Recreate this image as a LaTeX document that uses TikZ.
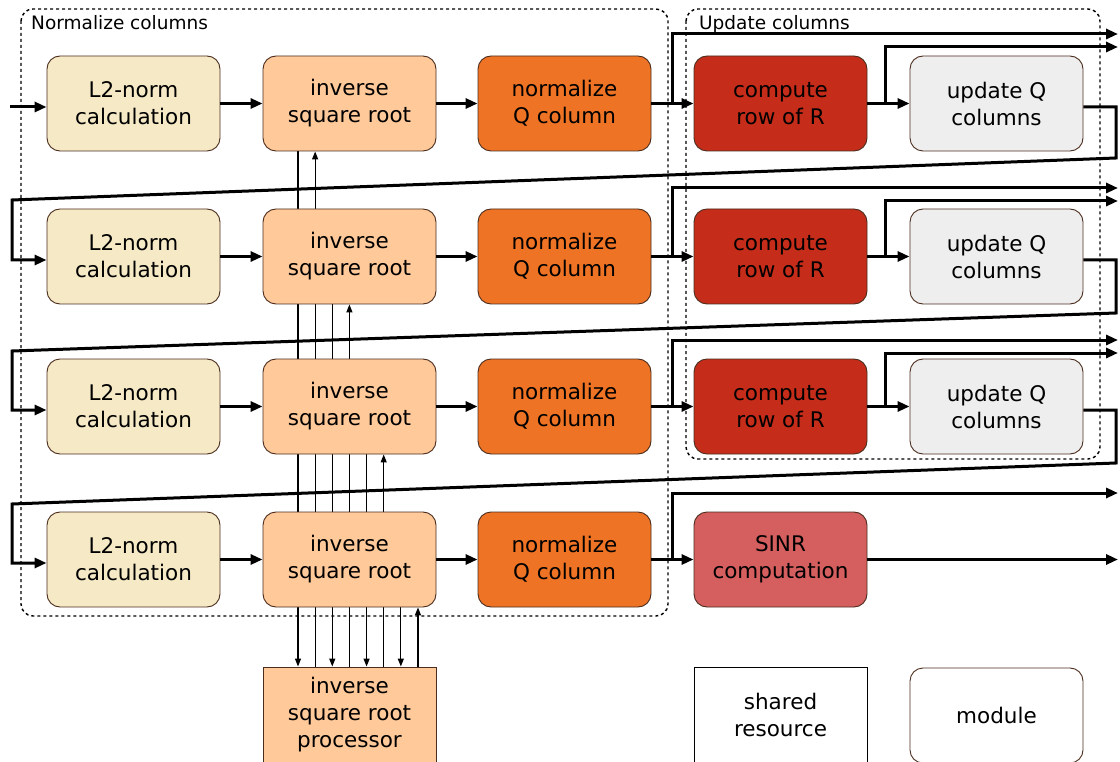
\documentclass[tikz,border=0pt]{standalone}
\usepackage{fontspec}
\setmainfont{DejaVu Sans}
\usetikzlibrary{arrows.meta,backgrounds}

\definecolor{l2col}{RGB}{246,233,197}
\definecolor{isrcol}{RGB}{255,201,153}
\definecolor{nqcol}{RGB}{239,115,36}
\definecolor{crcol}{RGB}{197,45,26}
\definecolor{uqcol}{RGB}{238,238,238}
\definecolor{sinrcol}{RGB}{213,94,94}
\definecolor{brdr}{RGB}{75,45,30}

\begin{document}
\begin{tikzpicture}[x=1pt,y=-1pt,
  box/.style={draw=brdr, line width=0.9pt, rounded corners=13pt,
    minimum width=173pt, minimum height=95pt, inner sep=0pt,
    align=center, font=\fontsize{21.5}{27}\selectfont},
  flow/.style={line width=3pt, -{Triangle[length=12pt,width=10pt]}},
  req/.style={line width=1.2pt, -{Triangle[length=8pt,width=6pt]}},
  group/.style={draw, line width=1.4pt, dash pattern=on 3pt off 3pt, rounded corners=12pt},
  grouplabel/.style={anchor=base west, inner sep=0pt, font=\fontsize{18.5}{22}\selectfont}
]
\useasboundingbox (0,0) rectangle (1120,762);

% group frames
\draw[group] (21,9) rectangle (668,616);
\draw[group] (686,9) rectangle (1100,459);
\node[grouplabel] (nlab) at (31,30) {Normalize columns};
\node[grouplabel] (ulab) at (699,30) {Update columns};

% normalization pipeline, one row per column
\foreach \r/\y in {1/103.5,2/256.5,3/406.5,4/559.5} {
  \node[box, fill=l2col] (l\r) at (133.5,\y) {L2-norm\\calculation};
  \node[box, fill=isrcol] (s\r) at (349.5,\y) {inverse\\square root};
  \node[box, fill=nqcol] (n\r) at (564.5,\y) {normalize\\Q column};
}
% update stage
\foreach \r/\y in {1/103.5,2/256.5,3/406.5} {
  \node[box, fill=crcol] (c\r) at (780.5,\y) {compute\\row of R};
  \node[box, fill=uqcol] (u\r) at (996.5,\y) {update Q\\columns};
}
\node[box, fill=sinrcol] (sinr) at (780.5,559.5) {SINR\\computation};

% shared processor and legend
\node[box, fill=isrcol, rounded corners=0pt] (proc) at (349.5,714.5) {inverse\\square root\\processor};
\node[box, draw=black, rounded corners=0pt, fill=white] (shared) at (780.5,714.5) {shared\\resource};
\node[box, fill=white] (module) at (996.5,715.5) {module};

% request / response lines to the shared processor
\begin{pgfonlayer}{background}
\foreach \r in {1,...,4} {
  \pgfmathsetmacro\dx{-51.5+34.28*(\r-1)}
  \pgfmathsetmacro\ux{\dx+17.14}
  \draw[req] ([xshift=\dx pt]s\r.south) -- ([xshift=\dx pt]proc.north);
  \draw[req] ([xshift=\ux pt]proc.north) -- ([xshift=\ux pt]s\r.south);
}
\end{pgfonlayer}

% main data flow
\coordinate (in) at (10,107);
\draw[flow] (in) -- ([yshift=-3.5pt]l1.west);
\foreach \r in {1,...,4} {
  \draw[flow] (l\r) -- (s\r);
  \draw[flow] (s\r) -- (n\r);
}
\foreach \r/\ya/\yb in {1/34/47, 2/188/201, 3/340/353} {
  \draw[flow] (n\r) -- (c\r);
  \draw[flow] (c\r) -- (u\r);
  \path (n\r.east) -- (c\r.west) coordinate[pos=0.5] (ba\r);
  \path (c\r.east) -- (u\r.west) coordinate[pos=0.42] (bb\r);
  \coordinate (oa\r) at (1118,\ya);
  \coordinate (ob\r) at (1118,\yb);
  \draw[flow] (ba\r) |- (oa\r);
  \draw[flow] (bb\r) |- (ob\r);
}
\draw[flow] (n4) -- (sinr);
\path (n4.east) -- (sinr.west) coordinate[pos=0.5] (ba4);
\coordinate (oa4) at (1118,493);
\draw[flow] (ba4) |- (oa4);
\coordinate (oe) at (1118,559.5);
\draw[flow] (sinr.east) -- (oe);

% wrap-around from one row to the next
\foreach \r/\n/\ya/\yb in {1/2/158/200, 2/3/313/351, 3/4/463/504} {
  \coordinate (wa\r) at (1116,\ya);
  \coordinate (wb\r) at (12,\yb);
  \draw[flow] ([yshift=-3.5pt]u\r.east) -| (wa\r) -- (wb\r) |- ([yshift=-3.5pt]l\n.west);
}
\end{tikzpicture}
\end{document}
